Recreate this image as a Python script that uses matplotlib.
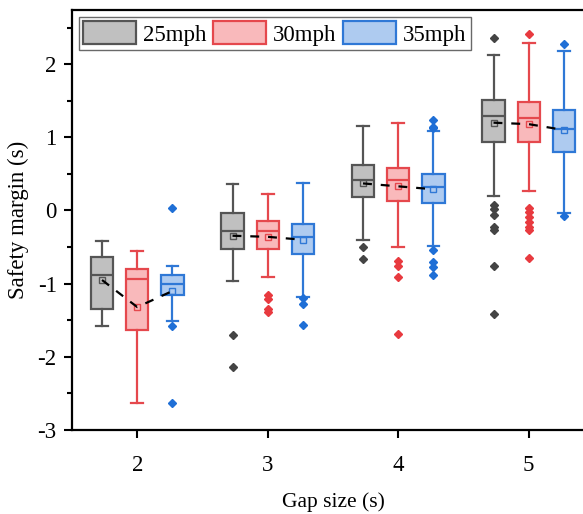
import numpy as np
import matplotlib.pyplot as plt
from matplotlib.patches import Patch

plt.rcParams['font.family'] = ['Liberation Serif', 'DejaVu Serif']

gaps = [2, 3, 4, 5]
speeds = ['25mph', '30mph', '35mph']

# box statistics: [whislo, q1, med, q3, whishi, mean]
stats_25 = [
    [-1.58, -1.35, -0.88, -0.64, -0.42, -0.95],
    [-0.97, -0.52, -0.28, -0.03, 0.36, -0.345],
    [-0.41, 0.18, 0.41, 0.62, 1.16, 0.37],
    [0.20, 0.93, 1.29, 1.51, 2.12, 1.20],
]
stats_30 = [
    [-2.63, -1.64, -0.94, -0.80, -0.55, -1.32],
    [-0.91, -0.52, -0.28, -0.14, 0.23, -0.36],
    [-0.50, 0.13, 0.41, 0.575, 1.19, 0.33],
    [0.27, 0.93, 1.26, 1.48, 2.29, 1.18],
]
stats_35 = [
    [-1.51, -1.15, -1.01, -0.88, -0.755, -1.10],
    [-1.18, -0.59, -0.36, -0.18, 0.38, -0.40],
    [-0.48, 0.10, 0.32, 0.50, 1.09, 0.29],
    [-0.04, 0.80, 1.12, 1.38, 2.18, 1.10],
]
fliers_25 = [
    [],
    [-1.70, -2.14],
    [-0.50, -0.66],
    [2.36, 0.07, 0.015, -0.06, -0.22, -0.27, -0.755, -1.415],
]
fliers_30 = [
    [],
    [-1.16, -1.21, -1.34, -1.39],
    [-0.69, -0.76, -0.91, -1.69],
    [2.41, 0.04, -0.02, -0.09, -0.155, -0.22, -0.27, -0.65],
]
fliers_35 = [
    [0.03, -1.58, -2.63],
    [-1.20, -1.28, -1.56],
    [1.23, 1.14, 1.13, -0.54, -0.70, -0.77, -0.88],
    [2.27, -0.08],
]

faces = ['#c0c0c0', '#f9b9bb', '#aecbf0']
edges = ['#555555', '#e5484d', '#2f78d6']
dots = ['#444444', '#e83a3f', '#1f6fd6']
offsets = [-0.27, 0.0, 0.27]

fig = plt.figure(figsize=(5.83, 5.14), dpi=100)
ax = fig.add_axes([72 / 583, 84 / 514, 522 / 583, 420 / 514])

all_stats = [stats_25, stats_30, stats_35]
all_fliers = [fliers_25, fliers_30, fliers_35]
means = np.zeros((3, 4))
for k in range(3):
    bxp = []
    for g in range(4):
        lo, q1, med, q3, hi, mu = all_stats[k][g]
        means[k, g] = mu
        bxp.append(dict(whislo=lo, q1=q1, med=med, q3=q3, whishi=hi,
                        mean=mu, fliers=all_fliers[k][g]))
    pos = [g + offsets[k] for g in gaps]
    ax.bxp(bxp, positions=pos, widths=0.17, patch_artist=True,
           showmeans=True, showfliers=True,
           boxprops=dict(facecolor=faces[k], edgecolor=edges[k], lw=1.6),
           medianprops=dict(color=edges[k], lw=1.6),
           whiskerprops=dict(color=edges[k], lw=1.6),
           capprops=dict(color=edges[k], lw=1.6),
           capwidths=0.09,
           meanprops=dict(marker='s', markersize=5, markerfacecolor='none',
                          markeredgecolor=edges[k], markeredgewidth=1.0),
           flierprops=dict(marker='D', markersize=4.5, markerfacecolor=dots[k],
                           markeredgecolor=dots[k]))

for g in range(4):
    xs = [gaps[g] + o for o in offsets]
    ax.plot(xs, means[:, g], ls=(0, (4, 4)), color='black', lw=1.6, zorder=5)

ax.set_xlim(1.5, 5.5)
ax.set_ylim(-3, 2.74)
ax.set_xticks(gaps)
ax.set_xticklabels([str(g) for g in gaps])
ax.set_yticks([-3, -2, -1, 0, 1, 2])
ax.set_yticklabels(['-3', '-2', '-1', '0', '1', '2'])
ax.set_yticks(np.arange(-2.5, 2.6, 1.0), minor=True)
ax.tick_params(axis='both', which='major', direction='out', length=6, width=1.5,
               labelsize=16.5, top=False, right=False)
ax.tick_params(axis='y', which='minor', direction='out', length=3.5, width=1.5)
ax.tick_params(axis='x', pad=12)
ax.tick_params(axis='y', pad=5)
for s in ax.spines.values():
    s.set_linewidth(1.6)

ax.set_xlabel('Gap size (s)', fontsize=15.5, labelpad=12)
ax.set_ylabel('Safety margin (s)', fontsize=16.5, labelpad=6)

handles = [Patch(facecolor=faces[k], edgecolor=edges[k], lw=1.6) for k in range(3)]
ax.legend(handles, speeds, loc='upper left', ncol=3, fontsize=16.5,
          frameon=True, fancybox=False, edgecolor='#444444',
          handlelength=2.3, handleheight=1.15, handletextpad=0.3,
          columnspacing=0.3, borderpad=0.2, borderaxespad=0.3)

plt.savefig('out.png', dpi=100)
